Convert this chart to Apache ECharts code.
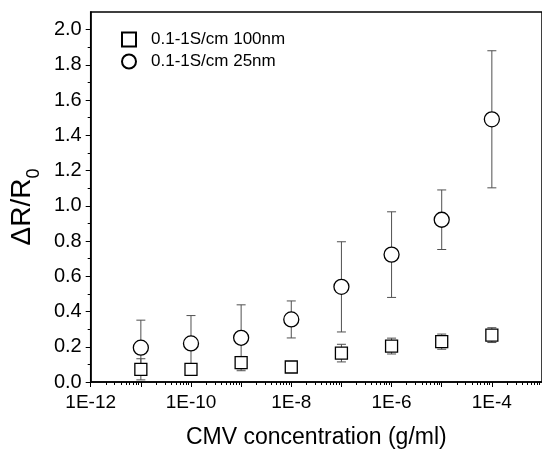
<!DOCTYPE html>
<html><head><meta charset="utf-8">
<script src="https://cdn.jsdelivr.net/npm/echarts@6/dist/echarts.min.js"></script>
<style>html,body{margin:0;padding:0;background:#fff}#c{width:542px;height:454px}</style>
</head><body><div id="c"></div>
<script>
// ---- data ----
const concentrations = [1e-11, 1e-10, 1e-9, 1e-8, 1e-7, 1e-6, 1e-5, 1e-4];
const nm100Mean = [0.072, 0.072, 0.110, 0.085, 0.164, 0.204, 0.229, 0.266];
const nm100Err  = [0.060, 0.012, 0.035, 0.008, 0.050, 0.045, 0.043, 0.042];
const nm25Mean  = [0.195, 0.219, 0.251, 0.355, 0.540, 0.723, 0.921, 1.491];
const nm25Err   = [0.156, 0.158, 0.187, 0.105, 0.256, 0.243, 0.169, 0.389];
const seriesNames = ['0.1-1S/cm 100nm', '0.1-1S/cm 25nm'];
const xMajorExponents = [-12, -11, -10, -9, -8, -7, -6, -5, -4, -3];
const xLabelExponents = [-12, -10, -8, -6, -4];
const yMajorTicks = [0, 0.2, 0.4, 0.6, 0.8, 1.0, 1.2, 1.4, 1.6, 1.8, 2.0];
const yMinorTicks = [0.1, 0.3, 0.5, 0.7, 0.9, 1.1, 1.3, 1.5, 1.7, 1.9];
const xTitle = 'CMV concentration (g/ml)';

// ---- build ----
const lx = concentrations.map(v => Math.log10(v));
const xMinor = [];
xMajorExponents.slice(0, -1).forEach(e => { for (let k = 2; k <= 9; k++) xMinor.push(e + Math.log10(k)); });

const FONT = '"Liberation Sans", Arial, sans-serif';
const ERR_COLOR = '#505050';

function errData(mean, err) { return lx.map((x, i) => [x, mean[i] - err[i], mean[i] + err[i]]); }
function errRender(params, api) {
  const x = api.value(0);
  const lo = api.coord([x, api.value(1)]);
  const hi = api.coord([x, api.value(2)]);
  const cw = 4.5;
  const st = { stroke: ERR_COLOR, lineWidth: 1 };
  return { type: 'group', children: [
    { type: 'line', shape: { x1: lo[0], y1: lo[1], x2: hi[0], y2: hi[1] }, style: st },
    { type: 'line', shape: { x1: lo[0] - cw, y1: lo[1], x2: lo[0] + cw, y2: lo[1] }, style: st },
    { type: 'line', shape: { x1: hi[0] - cw, y1: hi[1], x2: hi[0] + cw, y2: hi[1] }, style: st }
  ]};
}

const chart = echarts.init(document.getElementById('c'), null, { renderer: 'canvas' });
const axLine = { show: true, lineStyle: { color: '#000', width: 1.5 } };
chart.setOption({
  animation: false,
  backgroundColor: '#fff',
  textStyle: { fontFamily: FONT },
  grid: { left: 89, width: 456, top: 12, bottom: 71, show: true, borderColor: '#000', borderWidth: 1.5, backgroundColor: 'transparent' },
  legend: {
    orient: 'vertical', left: 116, top: 26, itemWidth: 14, itemHeight: 14, itemGap: 5,
    textStyle: { fontSize: 17, color: '#000', fontFamily: FONT, padding: [0, 0, 0, 10] },
    data: seriesNames
  },
  xAxis: [
    { type: 'value', min: -12, max: -3, interval: 1, position: 'bottom',
      axisLine: axLine, splitLine: { show: false },
      axisTick: { show: true, length: 5, lineStyle: { color: '#000', width: 1 }, customValues: xMajorExponents },
      axisLabel: { show: true, fontSize: 19, color: '#000', margin: 11, fontFamily: FONT, customValues: xLabelExponents,
        formatter: v => '1E' + v },
      name: xTitle, nameLocation: 'middle', nameGap: 44,
      nameTextStyle: { fontSize: 23, color: '#000', fontFamily: FONT } },
    { type: 'value', min: -12, max: -3, position: 'bottom', axisLine: { show: false }, splitLine: { show: false },
      axisTick: { show: true, length: 3, lineStyle: { color: '#000', width: 1 }, customValues: xMinor },
      axisLabel: { show: false } }
  ],
  yAxis: [
    { type: 'value', min: 0, max: 2.1, interval: 0.2, position: 'left',
      axisLine: axLine, splitLine: { show: false },
      axisTick: { show: true, length: 5, lineStyle: { color: '#000', width: 1 }, customValues: yMajorTicks },
      axisLabel: { show: true, fontSize: 20, color: '#000', margin: 9, fontFamily: FONT, customValues: yMajorTicks,
        formatter: v => v.toFixed(1) },
      name: '{m|ΔR/R}{s|0}', nameLocation: 'middle', nameGap: 48,
      nameTextStyle: { color: '#000', fontFamily: FONT, padding: [0, 20, 0, 0],
        rich: { m: { fontSize: 28, color: '#000', fontFamily: FONT, verticalAlign: 'bottom', lineHeight: 32 },
                s: { fontSize: 18, color: '#000', fontFamily: FONT, verticalAlign: 'bottom', lineHeight: 22, padding: [0, 0, -7, 0] } } } },
    { type: 'value', min: 0, max: 2.1, position: 'left', axisLine: { show: false }, splitLine: { show: false },
      axisTick: { show: true, length: 3, lineStyle: { color: '#000', width: 1 }, customValues: yMinorTicks },
      axisLabel: { show: false } }
  ],
  series: [
    { type: 'custom', name: seriesNames[0] + ' err', xAxisIndex: 0, yAxisIndex: 0, renderItem: errRender,
      data: errData(nm100Mean, nm100Err), z: 2, silent: true },
    { type: 'custom', name: seriesNames[1] + ' err', xAxisIndex: 0, yAxisIndex: 0, renderItem: errRender,
      data: errData(nm25Mean, nm25Err), z: 2, silent: true },
    { type: 'scatter', name: seriesNames[0], xAxisIndex: 0, yAxisIndex: 0, symbol: 'rect', symbolSize: 12,
      itemStyle: { color: '#fff', borderColor: '#000', borderWidth: 1.3, opacity: 1 },
      data: lx.map((x, i) => [x, nm100Mean[i]]), z: 5 },
    { type: 'scatter', name: seriesNames[1], xAxisIndex: 0, yAxisIndex: 0, symbol: 'circle', symbolSize: 15,
      itemStyle: { color: '#fff', borderColor: '#000', borderWidth: 1.3, opacity: 1 },
      data: lx.map((x, i) => [x, nm25Mean[i]]), z: 5 }
  ]
});
</script></body></html>
